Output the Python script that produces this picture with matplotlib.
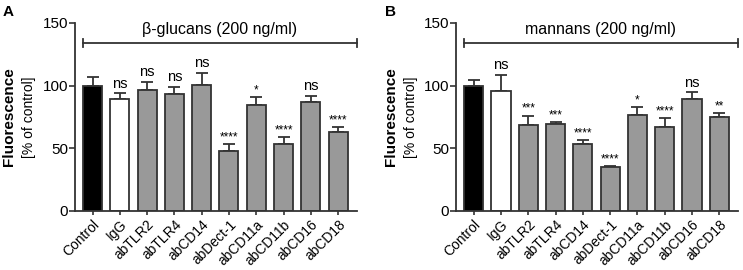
import matplotlib.pyplot as plt
import numpy as np

plt.rcParams['font.family'] = ['Liberation Sans', 'DejaVu Sans']

labels = ['Control', 'IgG', 'abTLR2', 'abTLR4', 'abCD14', 'abDect-1',
          'abCD11a', 'abCD11b', 'abCD16', 'abCD18']

# panel A: beta-glucans
glucan_mean = [100, 89, 96.5, 93, 100.5, 48, 84.5, 53.5, 87, 63]
glucan_err = [7, 5, 6.5, 6, 9.5, 5, 6.5, 5, 5, 4]
glucan_sig = ['', 'ns', 'ns', 'ns', 'ns', '****', '*', '****', 'ns', '****']

# panel B: mannans
mannan_mean = [100, 95.5, 68.5, 69, 53.5, 34.8, 76.5, 66.5, 89.5, 74.5]
mannan_err = [4, 13, 7.5, 2, 3, 1.2, 6, 7.5, 5, 3.5]
mannan_sig = ['', 'ns', '***', '***', '****', '****', '*', '****', 'ns', '**']

face = ['black', 'white'] + ['#999999'] * 8
edge = '#333333'


def draw_panel(ax, means, errs, sig, title, letter, lab_x):
    x = np.arange(len(labels))
    ax.bar(x, means, width=0.7, color=face, edgecolor=edge, linewidth=1.3, zorder=2)
    ax.errorbar(x, means, yerr=[np.zeros(len(errs)), errs], fmt='none',
                ecolor=edge, elinewidth=1.3, capsize=4, capthick=1.3, zorder=1)
    for xi, m, e, s in zip(x, means, errs, sig):
        if not s:
            continue
        if s == 'ns':
            ax.text(xi, m + e + 2, s, ha='center', va='bottom', fontsize=10.5)
        else:
            ax.text(xi, m + e + 0.5, s, ha='center', va='bottom', fontsize=8.5)
    # bracket with title
    ax.plot([-0.35, 9.7], [134, 134], color=edge, lw=1.3, clip_on=False)
    ax.plot([-0.35, -0.35], [131, 137], color=edge, lw=1.3, clip_on=False)
    ax.plot([9.7, 9.7], [131, 137], color=edge, lw=1.3, clip_on=False)
    ax.text(4.65, 139, title, ha='center', va='bottom', fontsize=11.5)

    ax.set_xlim(-0.64, 9.68)
    ax.set_ylim(0, 150)
    ax.set_yticks([0, 50, 100, 150])
    ax.set_xticks(x)
    ax.set_xticklabels(labels, rotation=45, ha='right', rotation_mode='anchor', fontsize=10)
    ax.tick_params(axis='y', labelsize=11, length=4, width=1.2, color=edge, pad=1)
    ax.tick_params(axis='x', length=3, width=1.2, color=edge, pad=2)
    for sp in ['top', 'right']:
        ax.spines[sp].set_visible(False)
    for sp in ['left', 'bottom']:
        ax.spines[sp].set_linewidth(1.3)
        ax.spines[sp].set_color(edge)
    ax.text(lab_x, 0.5, 'Fluorescence', transform=ax.transAxes, rotation=90,
            ha='center', va='center', fontsize=11, fontweight='bold')
    ax.text(lab_x + 0.072, 0.5, '[% of control]', transform=ax.transAxes, rotation=90,
            ha='center', va='center', fontsize=10)
    ax.text(lab_x, 1.06, letter, transform=ax.transAxes, ha='center', va='center',
            fontsize=11, fontweight='bold')


fig = plt.figure(figsize=(7.43, 2.70), dpi=100)
ax1 = fig.add_axes([0.101, 0.22, 0.379, 0.695])
ax2 = fig.add_axes([0.614, 0.22, 0.379, 0.695])
draw_panel(ax1, glucan_mean, glucan_err, glucan_sig, 'β-glucans (200 ng/ml)', 'A', -0.236)
draw_panel(ax2, mannan_mean, mannan_err, mannan_sig, 'mannans (200 ng/ml)', 'B', -0.232)

fig.savefig('out.png', dpi=100)
